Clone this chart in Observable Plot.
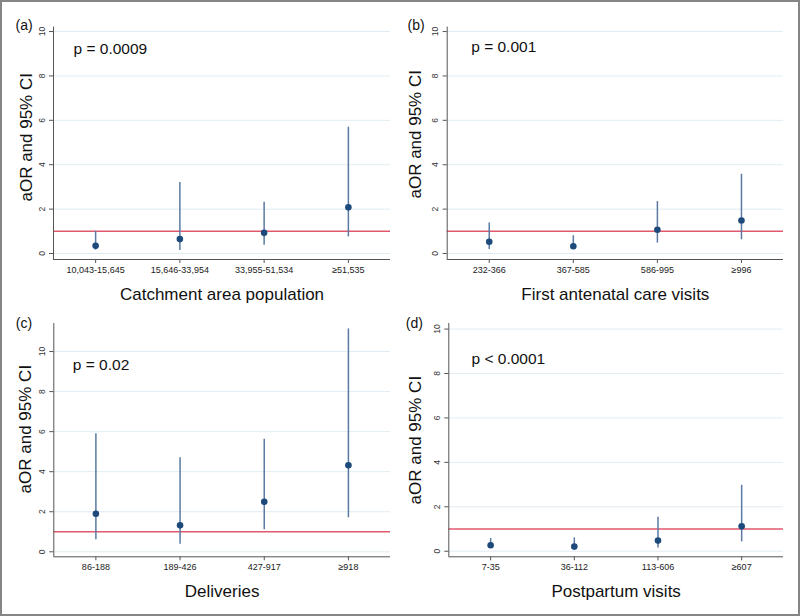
<!DOCTYPE html>
<html><head><meta charset="utf-8">
<script src="https://cdn.jsdelivr.net/npm/d3@7"></script>
<script src="https://cdn.jsdelivr.net/npm/@observablehq/plot@0.6"></script>
<style>
body{margin:0;background:#fff;}
#fig{position:relative;width:800px;height:616px;overflow:hidden;background:#fff;font-family:"Liberation Sans",Arial,sans-serif;}
.panel{position:absolute;}
#border{position:absolute;left:0;top:0;width:800px;height:616px;box-sizing:border-box;border:2px solid #858585;pointer-events:none;}
</style></head><body><div id="fig"></div>
<script>
// ---- Data ----
const panelLabels = ["(a)", "(b)", "(c)", "(d)"];
const pValueTexts = ["p = 0.0009", "p = 0.001", "p = 0.02", "p < 0.0001"];
const xTitles = ["Catchment area population", "First antenatal care visits", "Deliveries", "Postpartum visits"];
const yTitle = "aOR and 95% CI";
const yTickValues = [0, 2, 4, 6, 8, 10];
const referenceOR = 1;

const catsA = ["10,043-15,645", "15,646-33,954", "33,955-51,534", "≥51,535"];
const aorA  = [0.35, 0.65, 0.93, 2.08];
const lowA  = [0.15, 0.13, 0.37, 0.75];
const highA = [1.0, 3.2, 2.31, 5.69];

const catsB = ["232-366", "367-585", "586-995", "≥996"];
const aorB  = [0.53, 0.33, 1.07, 1.49];
const lowB  = [0.18, 0.2, 0.47, 0.62];
const highB = [1.38, 0.8, 2.34, 3.57];

const catsC = ["86-188", "189-426", "427-917", "≥918"];
const aorC  = [1.9, 1.32, 2.5, 4.32];
const lowC  = [0.6, 0.38, 1.1, 1.7];
const highC = [5.9, 4.7, 5.62, 11.13];

const catsD = ["7-35", "36-112", "113-606", "≥607"];
const aorD  = [0.27, 0.21, 0.48, 1.12];
const lowD  = [0.15, 0.12, 0.15, 0.42];
const highD = [0.57, 0.6, 1.53, 2.97];

// ---- Layout ----
const panels = [
  {cats: catsA, aor: aorA, low: lowA, high: highA, left: 0, top: 0,
   mL: 53, mR: 10, mT: 26.6, mB: 49, yDomain: [-0.27, 10.2],
   pDx: 20, pDy: 21.5, lDx: -38, lDy: -1.6, ytDx: -27, ytDy: -6},
  {cats: catsB, aor: aorB, low: lowB, high: highB, left: 400, top: 0,
   mL: 46.7, mR: 17, mT: 26.6, mB: 49, yDomain: [-0.27, 10.2],
   pDx: 24, pDy: 20, lDx: -39.7, lDy: -1.6, ytDx: -31.7, ytDy: -9},
  {cats: catsC, aor: aorC, low: lowC, high: highC, left: 0, top: 308,
   mL: 53.3, mR: 10, mT: 15, mB: 59.7, yDomain: [-0.25, 11.4],
   pDx: 19, pDy: 41.7, lDx: -38, lDy: 0, ytDx: -28, ytDy: -11},
  {cats: catsD, aor: aorD, low: lowD, high: highD, left: 400, top: 308,
   mL: 48.3, mR: 17, mT: 15, mB: 59.7, yDomain: [-0.25, 10.25],
   pDx: 22.7, pDy: 35.7, lDx: -43, lDy: 0, ytDx: -33, ytDy: 0}
];

const fig = document.getElementById("fig");
const font = "'Liberation Sans', Arial, Helvetica, sans-serif";

panels.forEach((p, k) => {
  const rows = p.cats.map((c, i) => ({i, cat: c, aor: p.aor[i], low: p.low[i], high: p.high[i]}));
  const chart = Plot.plot({
    width: 400, height: 308,
    marginLeft: p.mL, marginRight: p.mR, marginTop: p.mT, marginBottom: p.mB,
    style: {fontFamily: font, background: "transparent", color: "#222"},
    x: {type: "linear", domain: [-0.5, 3.5], axis: null},
    y: {domain: p.yDomain, axis: null},
    marks: [
      Plot.gridY(yTickValues, {stroke: "#e1ecf2", strokeOpacity: 1, strokeWidth: 1}),
      Plot.ruleY([referenceOR], {stroke: "#e0596d", strokeWidth: 1.5}),
      Plot.ruleX(rows, {x: "i", y1: "low", y2: "high", stroke: "#5a7aa2", strokeWidth: 1.5}),
      Plot.dot(rows, {x: "i", y: "aor", r: 3.3, fill: "#1d4a7a", stroke: "none"}),
      Plot.ruleY([p.yDomain[0]], {stroke: "#555", strokeWidth: 1}),
      Plot.ruleX([-0.5], {stroke: "#555", strokeWidth: 1}),
      Plot.axisX(rows.map(d => d.i), {tickFormat: i => p.cats[i], tickSize: 4, tickPadding: 3,
        fontSize: 9, label: null, stroke: "#555", fill: "#222"}),
      Plot.axisY(yTickValues, {tickSize: 4, tickRotate: -90, fontSize: 8.5, label: null,
        stroke: "#555", fill: "#333"}),
      Plot.text([yTitle], {frameAnchor: "left", textAnchor: "middle", lineAnchor: "middle",
        rotate: -90, dx: p.ytDx, dy: p.ytDy, fontSize: 17, fill: "#111"}),
      Plot.text([xTitles[k]], {frameAnchor: "bottom", textAnchor: "middle", lineAnchor: "middle",
        dy: 35, fontSize: 17, fill: "#111"}),
      Plot.text([pValueTexts[k]], {frameAnchor: "top-left", textAnchor: "start", lineAnchor: "middle",
        dx: p.pDx, dy: p.pDy, fontSize: 15.5, fill: "#111"}),
      Plot.text([panelLabels[k]], {frameAnchor: "top-left", textAnchor: "start", lineAnchor: "middle",
        dx: p.lDx, dy: p.lDy, fontSize: 14, fill: "#111"})
    ]
  });
  const div = document.createElement("div");
  div.className = "panel";
  div.style.left = p.left + "px";
  div.style.top = p.top + "px";
  div.appendChild(chart);
  fig.appendChild(div);
});
const border = document.createElement("div");
border.id = "border";
fig.appendChild(border);
</script>
</body></html>
